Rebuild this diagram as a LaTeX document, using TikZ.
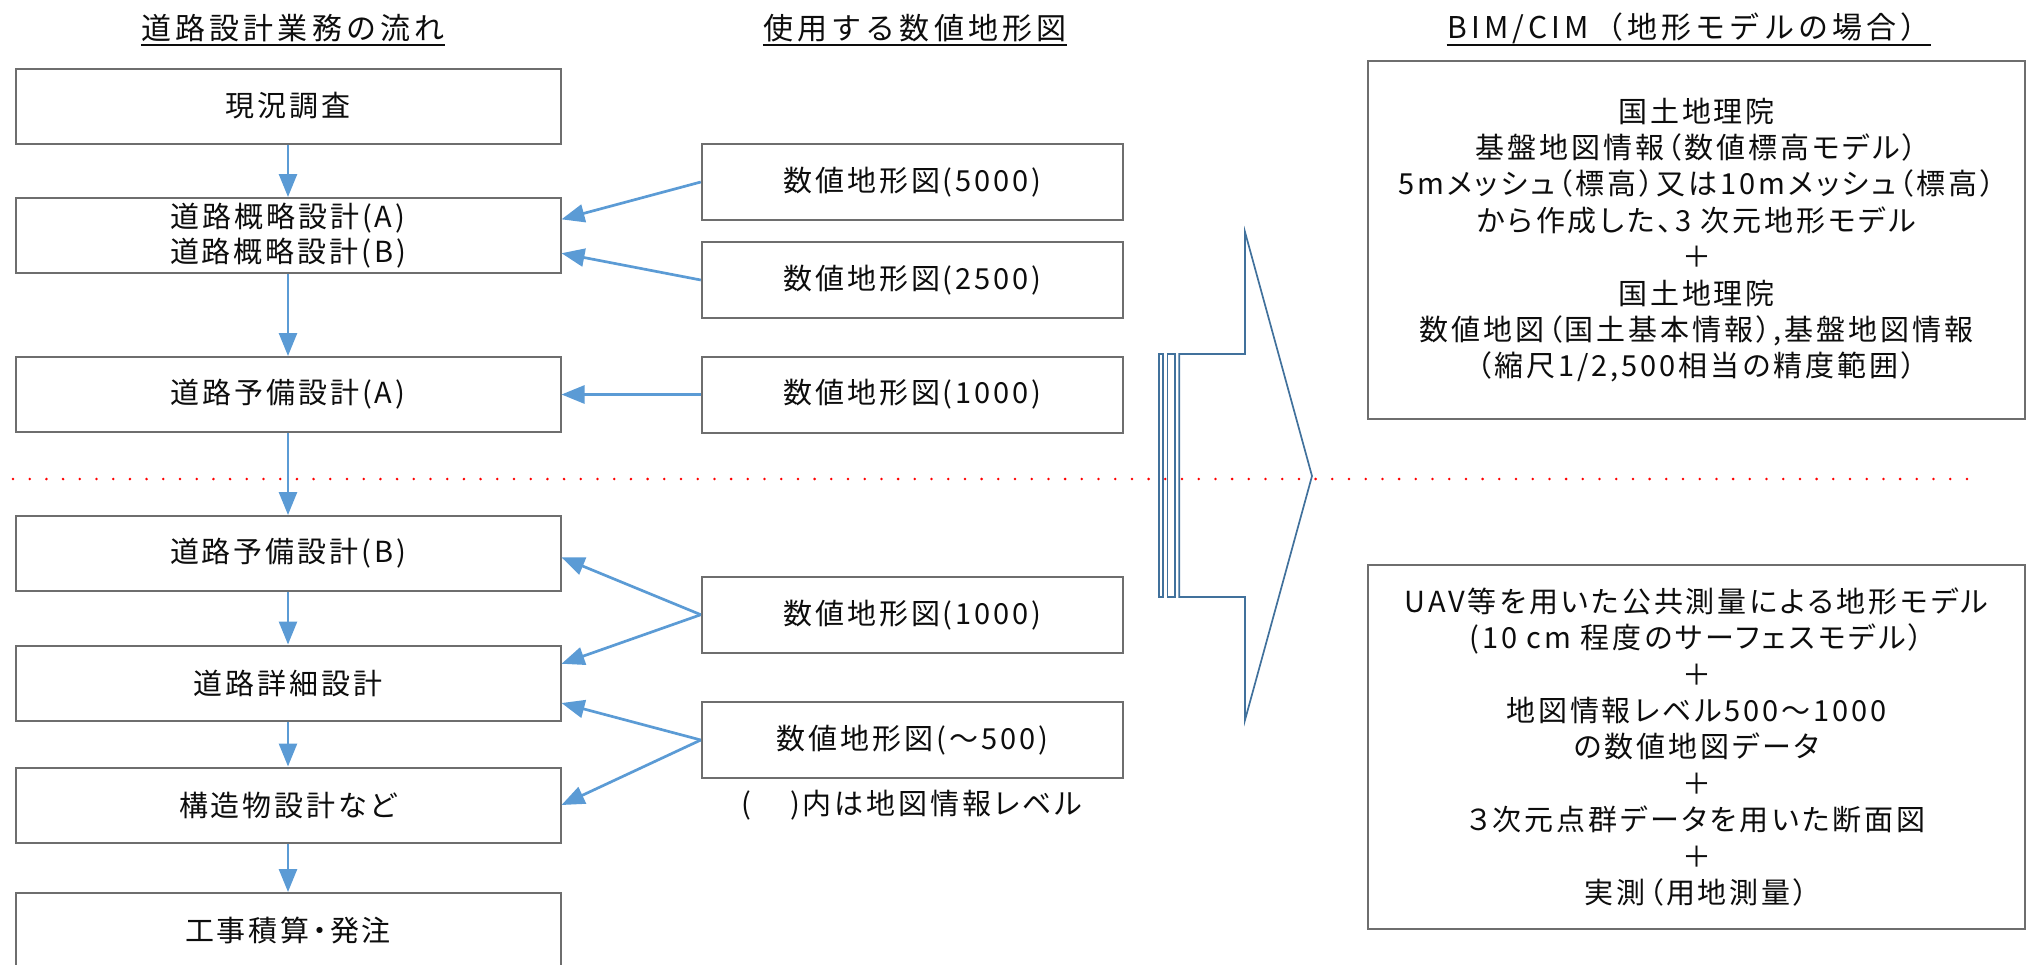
\documentclass[tikz,border=0pt]{standalone}
\usepackage{fontspec}
\setmainfont{Noto Sans CJK JP}[LetterSpace=10,RawFeature=+palt]
\newfontfamily\hdfont{Noto Sans CJK JP}[LetterSpace=14]
\usetikzlibrary{arrows.meta,calc}
\definecolor{flowblue}{HTML}{5B9BD5}
\definecolor{bigblue}{HTML}{41719C}
\definecolor{boxgray}{HTML}{6E6E6E}
\definecolor{txt}{HTML}{0D0D0D}
\begin{document}
\begin{tikzpicture}[x=0.5pt,y=-0.5pt,
  box/.style={draw=boxgray,line width=1pt,fill=white,inner sep=0pt,align=center,text=txt,font=\fontsize{14.5}{17.5}\selectfont},
  lbox/.style={box,minimum width=272.5pt,minimum height=37.5pt},
  mbox/.style={box,minimum width=210.6pt,minimum height=38pt},
  rbox/.style={box,font=\fontsize{14.5}{18.2}\selectfont,minimum width=328.5pt},
  flow/.style={draw=flowblue,line width=1.35pt,-{Triangle[length=11.5pt,width=9pt]}},
  head/.style={inner sep=0pt,text=txt,font=\hdfont\fontsize{15}{18}\selectfont},
  uline/.style={draw=txt,line width=1.4pt},
  bigarrow/.style={draw=bigblue,line width=0.85pt,line join=miter},
  reddots/.style={draw=red,line width=1.4pt,line cap=round,dash pattern=on 0pt off 8.35pt}]
\useasboundingbox (0,0) rectangle (2029,964);
\clip (0,0) rectangle (2029,964);

% headers
\coordinate (ul) at (0,45);
\node[head] (H1) at (293,28.5) {道路設計業務の流れ};
\node[head] (H2) at (915,28.5) {使用する数値地形図};
\node[head] (H3) at (1689,28.5) {BIM/CIM（地形モデルの場合）};
\draw[uline] (H1.west |- ul) -- (H1.east |- ul);
\draw[uline] (H2.west |- ul) -- (H2.east |- ul);
\draw[uline] (H3.west |- ul) -- (H3.east |- ul);

% separator
\coordinate (sepL) at (13,479);
\coordinate (sepR) at (1980,479);
\draw[reddots] (sepL) -- (sepR);

% left column
\node[lbox] (B1) at (288,106) {現況調査};
\node[lbox] (B2) at (288,235.5) {道路概略設計(A)\\道路概略設計(B)};
\node[lbox] (B3) at (288,394.5) {道路予備設計(A)};
\node[lbox] (B4) at (288,553.5) {道路予備設計(B)};
\node[lbox] (B5) at (288,683) {道路詳細設計};
\node[lbox] (B6) at (288,805) {構造物設計など};
\node[lbox] (B7) at (288,930.5) {工事積算・発注};

% middle column
\node[mbox] (M1) at (912.4,182) {数値地形図(5000)};
\node[mbox] (M2) at (912.4,280) {数値地形図(2500)};
\node[mbox] (M3) at (912.4,394.5) {数値地形図(1000)};
\node[mbox] (M4) at (912.4,614.7) {数値地形図(1000)};
\node[mbox] (M5) at (912.4,740) {数値地形図(～500)};
\node[inner sep=0pt,text=txt,font=\fontsize{14.5}{17.5}\selectfont] (note) at (912,805) {(\quad\ )内は地図情報レベル};

% right column
\node[rbox,minimum height=179pt] (R1) at (1696.5,240) {国土地理院\\基盤地図情報（数値標高モデル）\\5mメッシュ（標高）又は10mメッシュ（標高）\\から作成した、3 次元地形モデル\\＋\\国土地理院\\数値地図（国土基本情報）,基盤地図情報\\（縮尺1/2,500相当の精度範囲）};
\node[rbox,minimum height=181.75pt] (R2) at (1696.5,747) {UAV等を用いた公共測量による地形モデル\\(10 cm 程度のサーフェスモデル）\\＋\\地図情報レベル500～1000\\の数値地図データ\\＋\\３次元点群データを用いた断面図\\＋\\実測（用地測量）};

% flow arrows
\draw[flow] (B1.south) -- (B2.north);
\draw[flow] (B2.south) -- (B3.north);
\draw[flow] (B3.south) -- (B4.north);
\draw[flow] (B4.south) -- (B5.north);
\draw[flow] (B5.south) -- (B6.north);
\draw[flow] (B6.south) -- (B7.north);

% map arrows
\draw[flow] (M1.west) -- ($(B2.north east)!0.29!(B2.south east)$);
\draw[flow] (M2.west) -- ($(B2.north east)!0.73!(B2.south east)$);
\draw[flow] (M3.west) -- (B3.east);
\draw[flow] (M4.west) -- ($(B4.north east)!0.55!(B4.south east)$);
\draw[flow] (M4.west) -- ($(B5.north east)!0.25!(B5.south east)$);
\draw[flow] (M5.west) -- ($(B5.north east)!0.76!(B5.south east)$);
\draw[flow] (M5.west) -- (B6.east);

% big striped arrow
\draw[bigarrow] (1179.2,354) -- (1245,354) -- (1245,232) -- (1312,476) -- (1245,720) -- (1245,597) -- (1179.2,597) -- cycle;
\draw[bigarrow] (1159.2,354) rectangle (1162.7,597);
\draw[bigarrow] (1167.5,354) rectangle (1175,597);
\end{tikzpicture}
\end{document}
